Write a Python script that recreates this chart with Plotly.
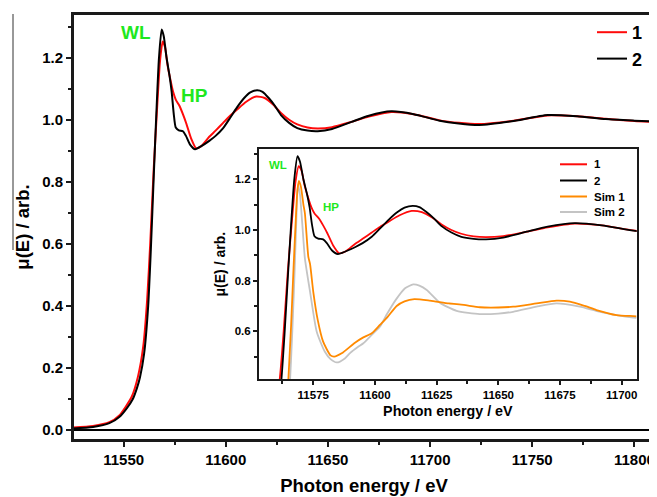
import plotly.graph_objects as go

# ---------------- data ----------------
energy_1 = [11525, 11535, 11543, 11548, 11551, 11554, 11557, 11559.6, 11561.5, 11563,
            11564.7, 11566.3, 11567.8, 11569.1, 11570.2, 11571.5, 11573, 11574.2, 11575.5,
            11577.3, 11579, 11580.7, 11583, 11585.5, 11588, 11591.9, 11595, 11598.7, 11602,
            11605.4, 11610, 11614.9, 11619, 11623, 11627, 11631, 11635, 11640, 11645, 11652,
            11661.5, 11670, 11681, 11692, 11704.7, 11714, 11724, 11740, 11757.6, 11772,
            11786, 11800, 11810]
mu_1 = [0.008, 0.013, 0.025, 0.048, 0.075, 0.108, 0.172, 0.27, 0.42, 0.6,
        0.84, 1.03, 1.19, 1.252, 1.235, 1.175, 1.125, 1.09, 1.065,
        1.045, 1.018, 0.987, 0.94, 0.908, 0.915, 0.945, 0.965, 0.99, 1.012,
        1.032, 1.058, 1.075, 1.07, 1.05, 1.022, 1.0, 0.985, 0.975, 0.972, 0.976,
        0.993, 1.01, 1.025, 1.018, 0.998, 0.99, 0.986, 0.996, 1.014, 1.011,
        1.003, 0.996, 0.993]

energy_2 = [11525, 11535, 11543, 11548, 11551.5, 11554.5, 11556.5, 11558, 11560, 11562,
            11563.3, 11564.8, 11566, 11567.3, 11568.6, 11569.6, 11571, 11572.5, 11573.5,
            11574.5, 11575.5, 11577, 11579, 11580.5, 11582.5, 11585, 11588, 11591.9, 11595,
            11598.7, 11602, 11605.4, 11609, 11612, 11615.3, 11618, 11621, 11624, 11627,
            11631, 11635, 11640, 11645, 11652, 11661.5, 11670, 11681, 11692, 11704.7,
            11714, 11724, 11740, 11757.6, 11772, 11786, 11800, 11810]
mu_2 = [0.005, 0.01, 0.022, 0.043, 0.07, 0.1, 0.135, 0.17, 0.245, 0.4,
        0.58, 0.83, 1.02, 1.2, 1.291, 1.27, 1.2, 1.14, 1.09,
        1.02, 0.975, 0.966, 0.963, 0.948, 0.92, 0.905, 0.915, 0.932, 0.948,
        0.973, 1.005, 1.039, 1.07, 1.088, 1.095, 1.09, 1.07, 1.045, 1.015,
        0.99, 0.973, 0.965, 0.963, 0.97, 0.993, 1.013, 1.027, 1.018, 0.997,
        0.988, 0.983, 0.995, 1.015, 1.011, 1.002, 0.997, 0.994]

energy_sim1 = [11564.5, 11564.9, 11566, 11567, 11568, 11568.6, 11569.2, 11570, 11571,
               11571.6, 11573, 11573.7, 11575, 11576.8, 11579, 11582, 11583.5, 11586.5,
               11591.9, 11595.3, 11598.7, 11602, 11605, 11608.8, 11612, 11616, 11622.3,
               11630, 11636, 11642.5, 11650, 11656, 11665.5, 11673.6, 11679, 11685,
               11689.8, 11697.9, 11704.7, 11706]
mu_sim1 = [0.33, 0.41, 0.62, 0.85, 1.06, 1.16, 1.194, 1.17, 1.1,
           1.066, 0.894, 0.865, 0.756, 0.645, 0.559, 0.505, 0.5, 0.513,
           0.555, 0.576, 0.592, 0.625, 0.655, 0.7, 0.718, 0.727, 0.721,
           0.71, 0.704, 0.695, 0.694, 0.697, 0.71, 0.721, 0.717, 0.7,
           0.684, 0.664, 0.66, 0.659]

energy_sim2 = [11565, 11565.6, 11566.5, 11567.3, 11568, 11568.8, 11569.6, 11570.5,
               11571.6, 11573.7, 11576.4, 11579.7, 11582, 11584.5, 11587.8, 11590,
               11593.2, 11595.3, 11598.7, 11602, 11605, 11608.5, 11612.2, 11615.5,
               11618, 11621, 11626.3, 11633.1, 11642.5, 11650, 11656, 11665.5,
               11673.6, 11683, 11690, 11697.9, 11704.7, 11706]
mu_sim2 = [0.33, 0.408, 0.6, 0.8, 1.0, 1.18, 1.14, 1.03,
           0.888, 0.756, 0.598, 0.519, 0.49, 0.477, 0.493, 0.515,
           0.539, 0.553, 0.586, 0.618, 0.67, 0.725, 0.77, 0.785,
           0.78, 0.763, 0.713, 0.681, 0.668, 0.67, 0.677, 0.697,
           0.71, 0.697, 0.68, 0.664, 0.654, 0.653]

series_names = ["1", "2", "Sim 1", "Sim 2"]
annotation_labels = ["WL", "HP"]
x_title = "Photon energy / eV"
y_title = "\u03bc(E) / arb."

# ---------------- layout helpers ----------------
# the page body has an 8 px margin, so the figure is drawn 8 px right/down
OFF = 8
W, H = 657 - OFF, 497 - OFF
L, T = 73 - OFF, 14 - OFF          # left / top edge of the main frame
RIGHT_EDGE, BOTTOM_EDGE = 655 - OFF, 440 - OFF
R, B = W - RIGHT_EDGE, H - BOTTOM_EDGE
PW, PH = RIGHT_EDGE - L, BOTTOM_EDGE - T


def px(x):
    """reference-picture x pixel -> paper fraction"""
    return (x - OFF - L) / PW


def py(y):
    """reference-picture y pixel -> paper fraction"""
    return (BOTTOM_EDGE - (y - OFF)) / PH


FONT = "Liberation Sans, Arial, sans-serif"
RED, BLACK, ORANGE, GREY, GREEN = "#ff0a0a", "#000000", "#ff8a00", "#c4c4c4", "#1ee81e"
FRAME = "#1a1a1a"
series_colors = [RED, BLACK, ORANGE, GREY]

fig = go.Figure()

# main plot
fig.add_trace(go.Scatter(x=energy_1, y=mu_1, name=series_names[0], mode="lines",
                         line=dict(color=RED, width=2, shape="spline", smoothing=0.6),
                         xaxis="x", yaxis="y", legend="legend", legendgroup="m1"))
fig.add_trace(go.Scatter(x=energy_2, y=mu_2, name=series_names[1], mode="lines",
                         line=dict(color=BLACK, width=2, shape="spline", smoothing=0.6),
                         xaxis="x", yaxis="y", legend="legend", legendgroup="m2"))

# inset (its key is drawn below by hand, to match the tight spacing)
fig.add_trace(go.Scatter(x=energy_sim2, y=mu_sim2, name=series_names[3], mode="lines",
                         line=dict(color=GREY, width=1.8, shape="spline", smoothing=0.6),
                         xaxis="x2", yaxis="y2", showlegend=False))
fig.add_trace(go.Scatter(x=energy_sim1, y=mu_sim1, name=series_names[2], mode="lines",
                         line=dict(color=ORANGE, width=1.8, shape="spline", smoothing=0.6),
                         xaxis="x2", yaxis="y2", showlegend=False))
fig.add_trace(go.Scatter(x=energy_1, y=mu_1, name=series_names[0], mode="lines",
                         line=dict(color=RED, width=1.8, shape="spline", smoothing=0.6),
                         xaxis="x2", yaxis="y2", showlegend=False))
fig.add_trace(go.Scatter(x=energy_2, y=mu_2, name=series_names[1], mode="lines",
                         line=dict(color=BLACK, width=1.8, shape="spline", smoothing=0.6),
                         xaxis="x2", yaxis="y2", showlegend=False))

axis_common = dict(showgrid=False, showline=True, mirror=True, ticks="outside",
                   linecolor=FRAME, tickcolor=FRAME, tickformat="d")

fig.update_layout(
    width=W, height=H,
    margin=dict(l=L, r=R, t=T, b=B, autoexpand=False),
    paper_bgcolor="white", plot_bgcolor="white",
    font=dict(family=FONT, color="black"),
    xaxis=dict(**axis_common, domain=[0, 1], anchor="y",
               range=[11525.2, 11810.1], tickmode="linear", tick0=11550, dtick=50,
               ticklen=5, tickwidth=1.5, linewidth=2, zeroline=False,
               tickfont=dict(size=15, weight="bold"),
               minor=dict(ticks="outside", dtick=25, tick0=11550, ticklen=3, tickwidth=1.5,
                          tickcolor=FRAME),
               title=dict(text=x_title, font=dict(size=18.5, weight="bold"), standoff=12)),
    xaxis2=dict(**axis_common, domain=[px(259), px(636.7)], anchor="y2",
                range=[11553.0, 11706.1], tickmode="linear", tick0=11575, dtick=25,
                ticklen=4, tickwidth=1.5, linewidth=2, zeroline=False,
                tickfont=dict(size=11.5, weight="bold"),
                minor=dict(ticks="outside", dtick=12.5, tick0=11575, ticklen=3,
                           tickwidth=1.5, tickcolor=FRAME),
                title=dict(text=x_title, font=dict(size=14.3, weight="bold"), standoff=6)),
    legend=dict(x=px(592), y=py(14), xanchor="left", yanchor="top",
                bgcolor="rgba(0,0,0,0)", font=dict(size=18, weight="bold"),
                tracegroupgap=0, traceorder="grouped"),
    showlegend=True,
)
fig.update_layout(
    yaxis=dict(showgrid=False, showline=True, mirror=True, ticks="outside",
               linecolor=FRAME, tickcolor=FRAME,
               domain=[0, 1], anchor="x",
               range=[-0.0322, 1.3408], tickmode="linear", tick0=0, dtick=0.2,
               tickformat=".1f", ticklen=5, tickwidth=1.5, linewidth=2,
               zeroline=True, zerolinecolor="black", zerolinewidth=1.6,
               tickfont=dict(size=15, weight="bold"),
               minor=dict(ticks="outside", dtick=0.1, tick0=0, ticklen=3, tickwidth=1.5,
                          tickcolor=FRAME),
               title=dict(text=y_title, font=dict(size=18.5, weight="bold"), standoff=8)),
    yaxis2=dict(showgrid=False, showline=True, mirror=True, ticks="outside",
                linecolor=FRAME, tickcolor=FRAME,
                domain=[py(379), py(149.3)], anchor="x2",
                range=[0.4117, 1.3184], tickmode="linear", tick0=0, dtick=0.2,
                tickformat=".1f", ticklen=4, tickwidth=1.5, linewidth=2, zeroline=False,
                tickfont=dict(size=11.5, weight="bold"),
                minor=dict(ticks="outside", dtick=0.1, tick0=0, ticklen=3, tickwidth=1.5,
                           tickcolor=FRAME),
                title=dict(text=y_title, font=dict(size=14, weight="bold"), standoff=6)),
)

ann = []
ann.append(dict(x=11555.8, y=1.28, xref="x", yref="y", text=annotation_labels[0],
                showarrow=False, font=dict(size=19, color=GREEN, weight="bold")))
ann.append(dict(x=11584.5, y=1.077, xref="x", yref="y", text=annotation_labels[1],
                showarrow=False, font=dict(size=19, color=GREEN, weight="bold")))
ann.append(dict(x=11560.9, y=1.256, xref="x2", yref="y2", text=annotation_labels[0],
                showarrow=False, font=dict(size=11.5, color=GREEN, weight="bold")))
ann.append(dict(x=11582.0, y=1.091, xref="x2", yref="y2", text=annotation_labels[1],
                showarrow=False, font=dict(size=11.5, color=GREEN, weight="bold")))

# inset key
key_rows = [164.3, 180.5, 196.5, 212.0]
for name, color, yy in zip(series_names, series_colors, key_rows):
    fig.add_shape(type="line", xref="paper", yref="paper", x0=px(560), x1=px(587),
                  y0=py(yy), y1=py(yy), line=dict(color=color, width=2))
    ann.append(dict(x=px(592), y=py(yy), xref="paper", yref="paper", text=name,
                    xanchor="left", yanchor="middle", showarrow=False,
                    font=dict(size=11.5, color="black", weight="bold")))
fig.update_layout(annotations=ann)

# full frame of the main plot, drawn explicitly as a box
fig.add_shape(type="rect", xref="paper", yref="paper", x0=0, x1=1, y0=0, y1=1,
              line=dict(color=FRAME, width=2), fillcolor="rgba(0,0,0,0)", layer="above")

# thin vertical rule at the far left (as in the reference)
fig.add_shape(type="line", xref="paper", yref="paper", x0=px(13), x1=px(13),
              y0=py(14), y1=py(250), line=dict(color="#333333", width=1))

fig.write_html("out.html")
